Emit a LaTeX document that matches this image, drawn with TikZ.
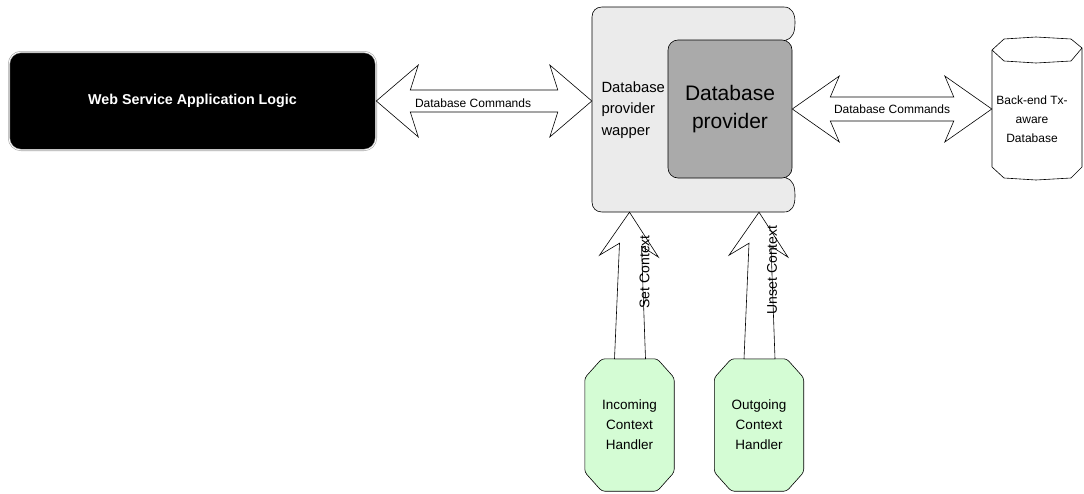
\documentclass[tikz,border=0pt]{standalone}
\usepackage{fontspec}
\setmainfont{Liberation Sans}
\usetikzlibrary{calc, backgrounds, positioning}
\definecolor{wrapgray}{RGB}{235, 235, 235}
\definecolor{provgray}{RGB}{170, 170, 170}
\definecolor{handgreen}{RGB}{212, 252, 212}

\tikzset{
  webbox/.style={fill=black, draw=gray!70, double=white, double distance=0.8pt, line width=0.6pt,
    rounded corners=12pt, minimum width=367pt, minimum height=98pt, text=white,
    font=\fontsize{14.3}{16}\selectfont\bfseries},
  wrapline/.style={fill=wrapgray, draw=black, line width=0.6pt},
  provbox/.style={fill=provgray, draw=black, line width=0.6pt, rounded corners=10pt,
    minimum width=124pt, minimum height=138pt, align=center, font=\fontsize{21}{28}\selectfont},
  handbox/.style={minimum width=89pt, minimum height=132pt, align=center,
    font=\fontsize{13.5}{20}\selectfont},
  handline/.style={fill=handgreen, draw=black, line width=0.6pt, rounded corners=3pt},
  cmdtext/.style={font=\fontsize{12}{14}\selectfont},
  ctxtext/.style={rotate=90, font=\fontsize{14}{16}\selectfont},
  twoway/.style n args={4}{fill=white, draw=black, line width=0.6pt,
    to path={
      -- ($(\tikztostart)+(#1,-#3)$) -- ($(\tikztostart)+(#2,-#4)$)
      -- ($(\tikztotarget)+(-#2,-#4)$) -- ($(\tikztotarget)+(-#1,-#3)$)
      -- (\tikztotarget)
      -- ($(\tikztotarget)+(-#1,#3)$) -- ($(\tikztotarget)+(-#2,#4)$)
      -- ($(\tikztostart)+(#2,#4)$) -- ($(\tikztostart)+(#1,#3)$)
      -- cycle}},
  oneway/.style={fill=white, draw=black, line width=0.6pt,
    to path={
      ++(-15,0) -- ($(\tikztotarget)+(-10,31)$) -- ($(\tikztotarget)+(-30,43)$)
      -- (\tikztotarget)
      -- ($(\tikztotarget)+(29,45)$) -- ($(\tikztotarget)+(12,34)$)
      -- ($(\tikztostart)+(16,0)$) -- cycle}},
}

% cut corners behind a handler node
\newcommand{\handoutline}[1]{%
  \begin{scope}[on background layer]
    \draw[handline] ($(#1.north west)+(17,0)$) -- ($(#1.north east)+(-17,0)$)
      -- ($(#1.north east)+(0,19)$) -- ($(#1.south east)+(0,-19)$)
      -- ($(#1.south east)+(-17,0)$) -- ($(#1.south west)+(17,0)$)
      -- ($(#1.south west)+(0,-19)$) -- ($(#1.north west)+(0,19)$) -- cycle;
  \end{scope}}

\begin{document}
\begin{tikzpicture}[x=1pt, y=-1pt]
  \useasboundingbox (0,0) rectangle (1084,493);

  % application logic
  \node[webbox] (web) at (192.5,101) {Web Service Application Logic};

  % wrapper around the provider
  \draw[wrapline] (602,7) -- (784,7) .. controls (792,7) and (795,14) .. (795,22)
    .. controls (795,32) and (793,38) .. (786,40) -- (786,178)
    .. controls (793,180) and (795,186) .. (795,196)
    .. controls (795,206) and (792,212) .. (784,212) -- (602,212)
    .. controls (596,212) and (592,208) .. (592,202) -- (592,17)
    .. controls (592,11) and (596,7) .. (602,7) -- cycle;
  \node[minimum width=203pt, minimum height=205pt] (wrap) at (693.5,109.5) {};
  \node[anchor=west, align=left, font=\fontsize{14.8}{21.5}\selectfont] (wraplbl) at (598,110) {Database\\provider\\wapper};
  \node[provbox] (prov) at (730,109) {Database\\provider};

  % back-end database
  \draw[fill=white, line width=0.6pt] (992,50) -- (1004,39) -- (1036,37) -- (1071,39) -- (1082,48)
    -- (1082,167) -- (1071,178) -- (1036,180) -- (1004,178) -- (992,167) -- cycle;
  \draw[line width=0.6pt] (992,50) -- (1004,61) -- (1036,63) -- (1071,61) -- (1082,48);
  \node[minimum width=90pt, minimum height=142pt] (dbase) at (1037,109) {};
  \node[align=center, font=\fontsize{12}{19}\selectfont] (dblbl) at ($(dbase.center)+(-5,10)$) {Back-end Tx-\\aware\\Database};

  % context handlers
  \node[handbox] (inc) at (629.5,425) {Incoming\\Context\\Handler};
  \handoutline{inc}
  \node[handbox] (outg) at (759,425) {Outgoing\\Context\\Handler};
  \handoutline{outg}

  % database commands
  \coordinate (lefttip) at (web.east -| wrap.west);
  \coordinate (righttip) at (prov.east -| dbase.west);
  \draw[twoway={42}{34}{36}{11}] (web.east) to (lefttip);
  \node[cmdtext] (cmdleft) at ($(web.east)!0.5!(lefttip)+(-11,2)$) {Database Commands};
  \draw[twoway={47}{38}{33}{12}] (prov.east) to (righttip);
  \node[cmdtext] (cmdright) at ($(prov.east)!0.5!(righttip)$) {Database Commands};

  % context calls
  \draw[oneway] (inc.north) to (inc.north |- wrap.south);
  \node[ctxtext] (setlbl) at ($(inc.north)+(15,-87)$) {Set Context};
  \draw[oneway] (outg.north) to (outg.north |- wrap.south);
  \node[ctxtext] (unsetlbl) at ($(outg.north)+(13,-89)$) {Unset Context};
\end{tikzpicture}
\end{document}
